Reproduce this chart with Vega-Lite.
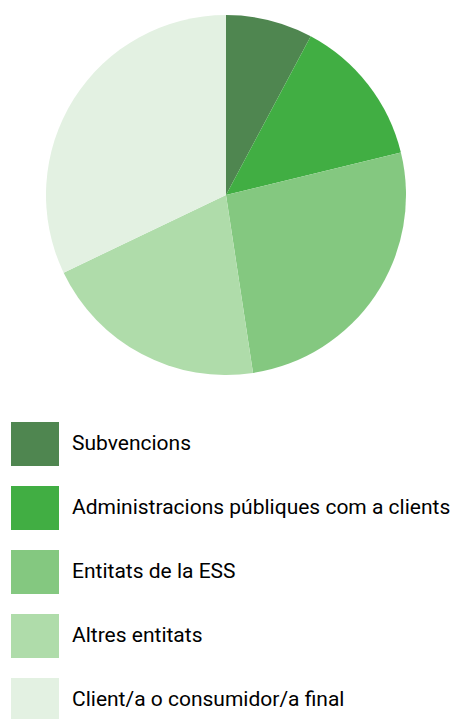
{
  "$schema": "https://vega.github.io/schema/vega-lite/v6.json",
  "width": 452,
  "height": 390,
  "padding": 0,
  "autosize": {"type": "pad"},
  "data": {
    "values": [
      {"cat": "Subvencions", "value": 7.8, "order": 1},
      {"cat": "Administracions públiques com a clients", "value": 13.4, "order": 2},
      {"cat": "Entitats de la ESS", "value": 26.4, "order": 3},
      {"cat": "Altres entitats", "value": 20.3, "order": 4},
      {"cat": "Client/a o consumidor/a final", "value": 32.1, "order": 5}
    ]
  },
  "mark": {"type": "arc", "outerRadius": 180},
  "encoding": {
    "theta": {"field": "value", "type": "quantitative", "stack": true},
    "order": {"field": "order", "type": "quantitative"},
    "color": {
      "field": "cat",
      "type": "nominal",
      "sort": null,
      "scale": {
        "domain": ["Subvencions", "Administracions públiques com a clients", "Entitats de la ESS", "Altres entitats", "Client/a o consumidor/a final"],
        "range": ["#4f8650", "#41ae43", "#84c880", "#afdcaa", "#e3f1e2"]
      },
      "legend": {
        "title": null,
        "orient": "none",
        "legendX": 11,
        "legendY": 420,
        "direction": "vertical",
        "symbolType": "M-1,-0.9167H1V0.9167H-1Z",
        "symbolSize": 2304,
        "symbolStrokeWidth": 0,
        "symbolOpacity": 1,
        "labelFont": "Roboto",
        "labelFontSize": 21,
        "labelColor": "#000000",
        "labelOffset": 13,
        "labelLimit": 500,
        "rowPadding": 17,
        "padding": 0
      }
    }
  },
  "config": {"view": {"stroke": null}}
}
